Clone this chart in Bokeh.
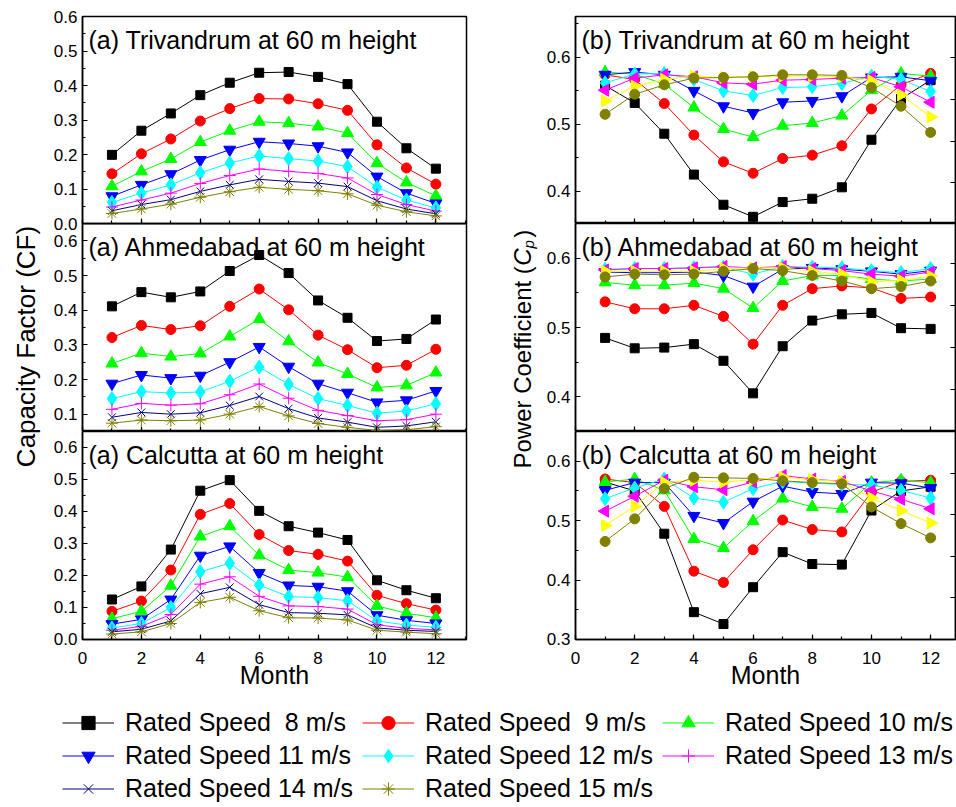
import math
from bokeh.plotting import figure
from bokeh.layouts import column, row
from bokeh.models import (Range1d, Label, Legend, LegendItem, NumeralTickFormatter,
                          SingleIntervalTicker, FixedTicker, LinearAxis,
                          ColumnDataSource, CustomJSTickFormatter)
from bokeh.embed import file_html
from bokeh.resources import INLINE

# ---------------------------------------------------------------- data
months = [1, 2, 3, 4, 5, 6, 7, 8, 9, 10, 11, 12]

legend_labels = ["Rated Speed  8 m/s", "Rated Speed  9 m/s", "Rated Speed 10 m/s",
                 "Rated Speed 11 m/s", "Rated Speed 12 m/s", "Rated Speed 13 m/s",
                 "Rated Speed 14 m/s", "Rated Speed 15 m/s"]

# capacity factor, one row per rated speed (8 ... 15 m/s)
cf_trivandrum = [
    [0.199, 0.269, 0.319, 0.372, 0.408, 0.437, 0.439, 0.425, 0.404, 0.295, 0.218, 0.159],
    [0.144, 0.202, 0.245, 0.297, 0.333, 0.362, 0.361, 0.347, 0.328, 0.228, 0.161, 0.114],
    [0.108, 0.151, 0.187, 0.236, 0.269, 0.295, 0.291, 0.281, 0.262, 0.175, 0.119, 0.080],
    [0.079, 0.112, 0.143, 0.184, 0.214, 0.237, 0.232, 0.224, 0.206, 0.136, 0.088, 0.058],
    [0.061, 0.088, 0.112, 0.147, 0.175, 0.196, 0.188, 0.181, 0.165, 0.105, 0.068, 0.045],
    [0.048, 0.068, 0.088, 0.116, 0.139, 0.158, 0.151, 0.145, 0.132, 0.084, 0.055, 0.036],
    [0.037, 0.055, 0.069, 0.093, 0.112, 0.128, 0.122, 0.117, 0.107, 0.066, 0.042, 0.028],
    [0.029, 0.042, 0.056, 0.076, 0.092, 0.105, 0.099, 0.095, 0.086, 0.053, 0.034, 0.022],
]
cf_ahmedabad = [
    [0.411, 0.452, 0.437, 0.454, 0.513, 0.559, 0.507, 0.428, 0.378, 0.311, 0.317, 0.373],
    [0.321, 0.356, 0.344, 0.355, 0.411, 0.461, 0.401, 0.328, 0.286, 0.234, 0.241, 0.287],
    [0.246, 0.276, 0.266, 0.275, 0.324, 0.374, 0.310, 0.249, 0.216, 0.177, 0.183, 0.220],
    [0.188, 0.213, 0.204, 0.211, 0.250, 0.294, 0.237, 0.188, 0.162, 0.134, 0.140, 0.167],
    [0.145, 0.165, 0.161, 0.164, 0.195, 0.236, 0.186, 0.145, 0.125, 0.103, 0.109, 0.130],
    [0.114, 0.131, 0.126, 0.130, 0.156, 0.187, 0.146, 0.111, 0.096, 0.081, 0.084, 0.100],
    [0.091, 0.105, 0.100, 0.104, 0.125, 0.151, 0.116, 0.089, 0.077, 0.062, 0.066, 0.078],
    [0.074, 0.083, 0.081, 0.083, 0.100, 0.122, 0.095, 0.073, 0.062, 0.053, 0.055, 0.064],
]
cf_calcutta = [
    [0.125, 0.166, 0.281, 0.465, 0.498, 0.402, 0.354, 0.334, 0.311, 0.185, 0.154, 0.129],
    [0.088, 0.120, 0.217, 0.391, 0.425, 0.328, 0.278, 0.266, 0.245, 0.138, 0.112, 0.092],
    [0.065, 0.088, 0.168, 0.322, 0.354, 0.263, 0.217, 0.209, 0.195, 0.105, 0.082, 0.068],
    [0.048, 0.063, 0.125, 0.262, 0.291, 0.208, 0.169, 0.165, 0.151, 0.076, 0.060, 0.050],
    [0.036, 0.050, 0.100, 0.212, 0.238, 0.170, 0.134, 0.131, 0.121, 0.058, 0.045, 0.038],
    [0.029, 0.041, 0.078, 0.173, 0.196, 0.135, 0.105, 0.103, 0.095, 0.046, 0.035, 0.030],
    [0.024, 0.032, 0.058, 0.143, 0.163, 0.109, 0.084, 0.082, 0.077, 0.036, 0.029, 0.025],
    [0.017, 0.024, 0.050, 0.116, 0.132, 0.090, 0.068, 0.067, 0.061, 0.029, 0.023, 0.018],
]

# power coefficient, one row per rated speed (8 ... 15 m/s)
cp_trivandrum = [
    [0.558, 0.532, 0.486, 0.425, 0.380, 0.362, 0.384, 0.389, 0.406, 0.477, 0.538, 0.566],
    [0.574, 0.567, 0.531, 0.484, 0.444, 0.427, 0.449, 0.454, 0.468, 0.523, 0.559, 0.576],
    [0.578, 0.575, 0.560, 0.525, 0.493, 0.481, 0.498, 0.502, 0.513, 0.551, 0.576, 0.572],
    [0.574, 0.578, 0.574, 0.550, 0.527, 0.517, 0.533, 0.535, 0.542, 0.570, 0.571, 0.565],
    [0.562, 0.575, 0.576, 0.567, 0.550, 0.543, 0.555, 0.556, 0.561, 0.572, 0.567, 0.549],
    [0.551, 0.569, 0.574, 0.571, 0.562, 0.560, 0.566, 0.567, 0.569, 0.570, 0.556, 0.533],
    [0.535, 0.557, 0.567, 0.572, 0.570, 0.571, 0.572, 0.572, 0.571, 0.565, 0.544, 0.511],
    [0.515, 0.545, 0.559, 0.569, 0.570, 0.571, 0.574, 0.574, 0.573, 0.555, 0.527, 0.488],
]
cp_ahmedabad = [
    [0.485, 0.470, 0.471, 0.476, 0.452, 0.405, 0.473, 0.510, 0.519, 0.521, 0.499, 0.498],
    [0.537, 0.527, 0.527, 0.532, 0.516, 0.476, 0.532, 0.556, 0.560, 0.557, 0.542, 0.544],
    [0.565, 0.561, 0.561, 0.564, 0.556, 0.528, 0.567, 0.575, 0.575, 0.570, 0.567, 0.570],
    [0.580, 0.579, 0.579, 0.580, 0.575, 0.559, 0.584, 0.586, 0.584, 0.581, 0.577, 0.582],
    [0.584, 0.585, 0.585, 0.586, 0.587, 0.577, 0.588, 0.587, 0.586, 0.582, 0.579, 0.585],
    [0.583, 0.585, 0.585, 0.586, 0.588, 0.586, 0.588, 0.585, 0.582, 0.577, 0.574, 0.580],
    [0.581, 0.581, 0.581, 0.581, 0.585, 0.586, 0.586, 0.581, 0.577, 0.566, 0.568, 0.574],
    [0.573, 0.577, 0.576, 0.577, 0.581, 0.585, 0.582, 0.575, 0.567, 0.556, 0.559, 0.567],
]
cp_calcutta = [
    [0.565, 0.550, 0.478, 0.346, 0.326, 0.388, 0.447, 0.427, 0.426, 0.517, 0.550, 0.557],
    [0.570, 0.564, 0.524, 0.415, 0.396, 0.451, 0.501, 0.485, 0.481, 0.548, 0.566, 0.568],
    [0.565, 0.570, 0.551, 0.469, 0.454, 0.499, 0.537, 0.523, 0.520, 0.564, 0.568, 0.564],
    [0.551, 0.564, 0.564, 0.508, 0.496, 0.532, 0.558, 0.548, 0.545, 0.564, 0.563, 0.555],
    [0.537, 0.555, 0.570, 0.538, 0.531, 0.554, 0.566, 0.563, 0.561, 0.560, 0.551, 0.538],
    [0.516, 0.541, 0.568, 0.557, 0.552, 0.565, 0.576, 0.570, 0.566, 0.550, 0.536, 0.520],
    [0.492, 0.524, 0.564, 0.568, 0.565, 0.569, 0.573, 0.569, 0.566, 0.538, 0.517, 0.496],
    [0.465, 0.503, 0.554, 0.573, 0.572, 0.571, 0.567, 0.564, 0.562, 0.523, 0.495, 0.471],
]

# tick positions of the opposite (right-hand) axis of each Cp panel
cp_right_ticks_trivandrum = [0.413, 0.475, 0.537, 0.600]
cp_right_ticks_ahmedabad = [0.410, 0.471, 0.532, 0.592]
cp_right_ticks_calcutta = [0.370, 0.440, 0.510, 0.580]

# ---------------------------------------------------------------- styles
FONT = "Liberation Sans"
HALF_PI = math.pi / 2
EPS = 1e-6

# (color, marker, size, angle)
cf_styles = [
    ("#000000", "square", 9, 0), ("#ff0000", "circle", 10, 0),
    ("#00ff00", "triangle", 12, 0), ("#0000ff", "inverted_triangle", 12, 0),
    ("#00ffff", "diamond", 14, 0), ("#ff00ff", "cross", 12, 0),
    ("#000080", "x", 11, 0), ("#808000", "asterisk", 12, 0),
]
cp_styles = [
    ("#000000", "square", 9, 0), ("#ff0000", "circle", 10, 0),
    ("#00ff00", "triangle", 12, 0), ("#0000ff", "inverted_triangle", 12, 0),
    ("#00ffff", "diamond", 14, 0), ("#ff00ff", "triangle", 12, HALF_PI),
    ("#ffff00", "triangle", 12, -HALF_PI), ("#808000", "circle", 10, 0),
]

BLANK = "return ''"


def panel(title, series, styles, y0, y1, x1, width, height, bl, br, bt, bb,
          show_x=False, margin=None, transparent=False, right_ticks=None):
    p = figure(width=width, height=height, x_range=Range1d(0, x1),
               y_range=Range1d(y0, y1), output_backend="svg", toolbar_location=None,
               min_border_left=bl, min_border_right=br, min_border_top=bt,
               min_border_bottom=bb)
    if margin is not None:
        p.margin = margin
    if transparent:
        p.background_fill_alpha = 0
        p.border_fill_alpha = 0
    p.grid.visible = False
    p.outline_line_color = "black"
    p.outline_line_width = 1.5

    p.xaxis.ticker = SingleIntervalTicker(interval=2, num_minor_ticks=2)
    p.yaxis.ticker = SingleIntervalTicker(interval=0.1, num_minor_ticks=2)
    p.yaxis.formatter = NumeralTickFormatter(format="0.0")
    for ax in (p.xaxis[0], p.yaxis[0]):
        ax.axis_line_width = 1.5
        ax.axis_line_color = "black"
        ax.major_tick_in = 5
        ax.major_tick_out = 0
        ax.minor_tick_in = 3
        ax.minor_tick_out = 0
        ax.major_tick_line_width = 1.2
        ax.minor_tick_line_width = 1.2
        ax.major_tick_line_color = "black"
        ax.minor_tick_line_color = "black"
        ax.major_label_text_font = FONT
        ax.major_label_text_font_size = "17px"
        ax.major_label_text_color = "black"
        ax.major_label_standoff = 5
    if show_x:
        p.xaxis.axis_label = "Month"
        p.xaxis.axis_label_text_font = FONT
        p.xaxis.axis_label_text_font_size = "25px"
        p.xaxis.axis_label_text_font_style = "normal"
        p.xaxis.axis_label_text_color = "black"
        p.xaxis.axis_label_standoff = -6
        p.xaxis.major_label_standoff = 12
    else:
        # month ticks only; the numbers sit under the lowest panel
        p.xaxis.formatter = CustomJSTickFormatter(code=BLANK)
        p.xaxis.major_label_standoff = 0

    if right_ticks is not None:
        rax = LinearAxis(ticker=FixedTicker(ticks=right_ticks, minor_ticks=[]),
                         formatter=CustomJSTickFormatter(code=BLANK),
                         major_tick_in=5, major_tick_out=0, minor_tick_in=0,
                         minor_tick_out=0, major_label_standoff=0,
                         major_tick_line_width=1.2, major_tick_line_color="black",
                         axis_line_width=1.5, axis_line_color="black")
        p.add_layout(rax, "right")

    for vals, (color, marker, size, angle) in zip(series, styles):
        src = ColumnDataSource(dict(x=months, y=vals))
        p.line("x", "y", source=src, line_color=color, line_width=1)
        p.scatter("x", "y", source=src, marker=marker, size=size, angle=angle,
                  fill_color=color, line_color=color, line_width=1)

    fw = width - bl - br
    fh = height - bt - bb
    p.add_layout(Label(x=6 * x1 / fw, y=y1 - 23 * (y1 - y0) / fh, text=title,
                       text_font=FONT, text_font_size="25px", text_color="black",
                       text_baseline="alphabetic", text_align="left"))
    return p


LW, RW = 420, 416
OV = 12  # overlap that keeps the lowest tick label of the top panel whole

tl = panel("(a) Trivandrum at 60 m height", cf_trivandrum, cf_styles, 0.0, 0.6 + EPS, 13.04,
           LW, 223 + OV, 31, 4, 16, OV)
ml = panel("(a) Ahmedabad at 60 m height", cf_ahmedabad, cf_styles, 0.05, 0.65, 13.04,
           LW, 208, 31, 4, 0, 0, margin=(-OV, 0, 0, 0), transparent=True)
bl_ = panel("(a) Calcutta at 60 m height", cf_calcutta, cf_styles, 0.0 - EPS, 0.65, 13.04,
            LW, 268, 31, 4, 0, 60, show_x=True)

tr = panel("(b) Trivandrum at 60 m height", cp_trivandrum, cp_styles, 0.352, 0.661, 12.84,
           RW, 223, 35, 1, 16, 0, right_ticks=cp_right_ticks_trivandrum)
mr = panel("(b) Ahmedabad at 60 m height", cp_ahmedabad, cp_styles, 0.35, 0.65, 12.84,
           RW, 208, 35, 1, 0, 0, right_ticks=cp_right_ticks_ahmedabad)
br = panel("(b) Calcutta at 60 m height", cp_calcutta, cp_styles, 0.3 - EPS, 0.65, 12.84,
           RW, 268, 35, 1, 0, 60, show_x=True, right_ticks=cp_right_ticks_calcutta)


def label_strip(width, height):
    s = figure(width=width, height=height, x_range=Range1d(0, width),
               y_range=Range1d(0, height), x_axis_type=None, y_axis_type=None,
               output_backend="svg", toolbar_location=None, min_border=0)
    s.outline_line_color = None
    s.grid.visible = False
    return s


# vertical axis titles shared by each column
H = 699
cf_strip = label_strip(50, H)
cf_strip.add_layout(Label(x=25, y=H - 346, text="Capacity Factor (CF)", angle=HALF_PI,
                          text_font=FONT, text_font_size="26px", text_color="black",
                          text_align="center", text_baseline="middle"))

cp_strip = label_strip(70, H)
fs = 24
base_y = H - 468
cx = 52
cp_strip.add_layout(Label(x=cx, y=base_y, text="Power Coefficient (", angle=HALF_PI,
                          text_font=FONT, text_font_size=f"{fs}px", text_color="black",
                          text_align="left", text_baseline="middle"))
w1 = 8.447 * fs
cp_strip.add_layout(Label(x=cx, y=base_y + w1, text="C", angle=HALF_PI,
                          text_font=FONT, text_font_size=f"{fs}px", text_font_style="italic",
                          text_color="black", text_align="left", text_baseline="middle"))
w2 = w1 + 0.722 * fs
cp_strip.add_layout(Label(x=cx + 6, y=base_y + w2, text="p", angle=HALF_PI,
                          text_font=FONT, text_font_size=f"{int(fs * 0.65)}px",
                          text_font_style="italic", text_color="black",
                          text_align="left", text_baseline="middle"))
w3 = w2 + 0.556 * fs * 0.65 + 2
cp_strip.add_layout(Label(x=cx, y=base_y + w3, text=")", angle=HALF_PI,
                          text_font=FONT, text_font_size=f"{fs}px", text_color="black",
                          text_align="left", text_baseline="middle"))

# legend strip along the bottom; its sample renderers sit outside the visible range
lf = figure(width=956, height=108, x_range=Range1d(0, 1), y_range=Range1d(0, 1),
            x_axis_type=None, y_axis_type=None, output_backend="svg",
            toolbar_location=None, min_border=0)
lf.outline_line_color = None
lf.grid.visible = False
items = []
for lab, (color, marker, size, angle) in zip(legend_labels, cf_styles):
    src = ColumnDataSource(dict(x=[-5, -4], y=[-5, -5]))
    r1 = lf.line("x", "y", source=src, line_color=color, line_width=1)
    r2 = lf.scatter("x", "y", source=src, marker=marker, size=size, angle=angle,
                    fill_color=color, line_color=color)
    items.append(LegendItem(label=lab, renderers=[r1, r2]))
legend = Legend(items=items, location=(62, 2), orientation="horizontal", ncols=3,
                glyph_width=52, glyph_height=33, label_height=33, label_standoff=11,
                label_width=237, spacing=0, padding=0, margin=0, border_line_alpha=0,
                background_fill_alpha=0, label_text_font=FONT,
                label_text_font_size="25px", label_text_color="black")
lf.add_layout(legend, "center")

layout = column(row(cf_strip, column(tl, ml, bl_), cp_strip, column(tr, mr, br)), lf)

open("out.html", "w").write(file_html(layout, INLINE))
